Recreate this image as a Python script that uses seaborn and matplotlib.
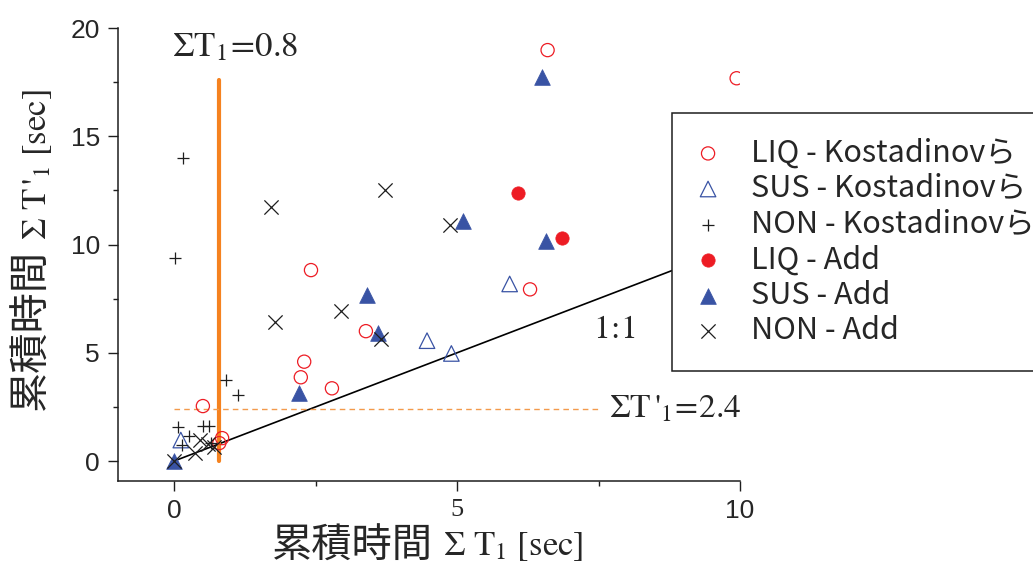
import numpy as np
import pandas as pd
import matplotlib
matplotlib.use("Agg")
import matplotlib.pyplot as plt
import seaborn as sns
from matplotlib.ticker import MultipleLocator

# --- data (x = sum T1 [sec], y = sum T'1 [sec]) ---
liq_k_x = [6.60, 9.94, 2.42, 6.29, 3.39, 2.30, 2.24, 2.79, 0.51, 0.85, 0.80]
liq_k_y = [18.98, 17.68, 8.82, 7.93, 6.00, 4.59, 3.87, 3.36, 2.54, 1.06, 0.83]

sus_k_x = [5.93, 4.47, 4.90, 0.12]
sus_k_y = [8.18, 5.56, 4.97, 0.97]

non_k_x = [0.16, 0.02, 0.92, 1.13, 0.07, 0.27, 0.52, 0.62, 0.14, 0.66]
non_k_y = [14.00, 9.38, 3.74, 3.05, 1.57, 1.18, 1.64, 1.64, 0.74, 0.85]

liq_a_x = [6.08, 6.85]
liq_a_y = [12.36, 10.29]

sus_a_x = [6.50, 5.11, 6.57, 3.41, 3.60, 2.21, 0.00]
sus_a_y = [17.75, 11.10, 10.18, 7.67, 5.90, 3.16, 0.00]

non_a_x = [1.71, 3.73, 4.88, 1.78, 2.95, 3.65, 0.46, 0.37, 0.60, 0.70, 0.00]
non_a_y = [11.75, 12.52, 10.90, 6.43, 6.94, 5.62, 0.97, 0.37, 0.78, 0.66, 0.00]

labels = ["LIQ - Kostadinovら", "SUS - Kostadinovら", "NON - Kostadinovら",
          "LIQ - Add", "SUS - Add", "NON - Add"]

t1_limit = 0.8      # vertical threshold
t1p_limit = 2.4     # horizontal threshold
xticks = [0, 5, 10]
yticks = [0, 5, 10, 15, 20]

RED = "#ed1c24"
BLUE = "#3953a4"
ORANGE = "#f5821f"
ORANGE_LIGHT = "#f39a4c"
INK = "#1e1e1e"

sns.set_style("ticks")
plt.rcParams["font.family"] = ["Liberation Sans", "Noto Sans CJK JP"]
plt.rcParams["mathtext.fontset"] = "stix"

fig = plt.figure(figsize=(10.33, 5.66), dpi=100)
ax = fig.add_axes([0.1142, 0.1502, 0.6022, 0.8003])

# reference lines
ax.plot([0, 10.5], [0, 10.5], color="black", lw=1.2, zorder=1)
ax.plot([t1_limit, t1_limit], [0, 17.6], color=ORANGE, lw=3, zorder=1)
ax.plot([0, 7.5], [t1p_limit, t1p_limit], color=ORANGE_LIGHT, lw=1.0,
        ls=(0, (4, 3)), zorder=1)

groups = [
    (liq_k_x, liq_k_y, dict(marker="o", s=90, facecolor="none", edgecolor=RED, linewidth=0.9)),
    (sus_k_x, sus_k_y, dict(marker="^", s=125, facecolor="none", edgecolor=BLUE, linewidth=0.9)),
    (non_k_x, non_k_y, dict(marker="+", s=85, color=INK, linewidth=0.9)),
    (liq_a_x, liq_a_y, dict(marker="o", s=92, color=RED, edgecolor=RED, linewidth=0.5)),
    (sus_a_x, sus_a_y, dict(marker="^", s=128, color=BLUE, edgecolor=BLUE, linewidth=0.5)),
    (non_a_x, non_a_y, dict(marker="x", s=105, color=INK, linewidth=0.9)),
]
for (gx, gy, kw), lab in zip(groups, labels):
    df = pd.DataFrame({"x": gx, "y": gy})
    sns.scatterplot(data=df, x="x", y="y", ax=ax, label=lab, zorder=3, legend=False, **kw)

ax.set_xlim(-0.99, 10.0)
ax.set_ylim(-0.92, 20)
ax.set_xticks(xticks)
ax.set_yticks(yticks)
ax.xaxis.set_minor_locator(MultipleLocator(2.5))
ax.yaxis.set_minor_locator(MultipleLocator(2.5))
ax.tick_params(which="major", direction="out", length=7, width=1, labelsize=19, pad=6, color=INK)
ax.tick_params(which="minor", direction="out", length=3.5, width=1, color=INK)
ax.set_xlabel("")
ax.set_ylabel("")
sns.despine(ax=ax)
for sp in ("left", "bottom"):
    ax.spines[sp].set_linewidth(1.1)
    ax.spines[sp].set_color(INK)
ax.get_xticklabels()[1].set_family("Liberation Serif")

# annotations
ax.text(-0.04, 18.7, r"$\Sigma\mathrm{T}_{1}\!=\!0.8$", fontsize=25, va="baseline", ha="left")
ax.text(7.69, 1.99, r"$\Sigma\mathrm{T}\,'_{1}\!=\!2.4$", fontsize=24, va="baseline", ha="left")
ax.text(7.40, 5.68, r"$1\!:\!1$", fontsize=24, va="baseline", ha="left")

# axis labels: Japanese gothic part + serif symbol part
fig.text(272 / 1033, 1 - 558 / 566, "累積時間", fontsize=29,
         family=["Noto Sans CJK JP"], ha="left", va="baseline")
fig.text(443 / 1033, 1 - 555 / 566, r"$\Sigma\ \mathrm{T}_{1}\ \mathrm{[sec]}$", fontsize=25,
         ha="left", va="baseline")
fig.text(31 / 1033, 1 - 410 / 566, "累積時間", fontsize=29, rotation=90,
         family=["Noto Sans CJK JP"], ha="center", va="bottom")
fig.text(38 / 1033, 1 - 240 / 566, r"$\Sigma\ \mathrm{T}\,'_{1}\ \mathrm{[sec]}$", fontsize=25,
         rotation=90, ha="center", va="bottom")

leg = ax.legend(loc="upper left", bbox_to_anchor=(672 / 1033, 1 - 113 / 566),
                bbox_transform=fig.transFigure, borderaxespad=0,
                prop={"family": ["Noto Sans CJK JP"], "size": 22},
                frameon=True, fancybox=False, framealpha=1, edgecolor=INK,
                handlelength=0.76, handletextpad=1.03, borderpad=0.8, labelspacing=0.15)
leg.get_frame().set_linewidth(1.1)
leg.set_zorder(5)

fig.savefig("out.png", dpi=100)
